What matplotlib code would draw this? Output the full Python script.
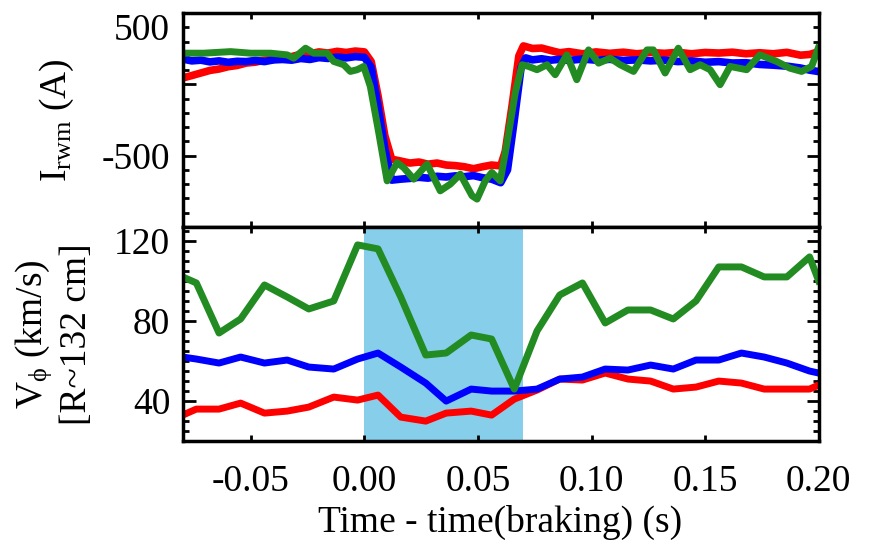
import numpy as np
import matplotlib
matplotlib.use("Agg")
import matplotlib.pyplot as plt
from matplotlib.ticker import MultipleLocator, NullLocator, FixedLocator

plt.rcParams['font.family'] = ['Liberation Serif', 'DejaVu Serif']
plt.rcParams['mathtext.fontset'] = 'custom'
plt.rcParams['mathtext.rm'] = 'Liberation Serif'
plt.rcParams['mathtext.it'] = 'Liberation Serif:italic'

# --- top panel: RWM coil current (t [s], I [A]) ---
rwm_red = [(-0.080, 45), (-0.076, 62), (-0.072, 80), (-0.068, 98), (-0.064, 108),
           (-0.060, 124), (-0.056, 133), (-0.052, 150), (-0.048, 156), (-0.044, 170),
           (-0.040, 175), (-0.036, 190), (-0.032, 195), (-0.028, 212), (-0.024, 215),
           (-0.020, 228), (-0.016, 220), (-0.012, 232), (-0.008, 224), (-0.004, 234),
           (0.000, 228), (0.003, 160), (0.006, -80), (0.009, -360), (0.012, -525),
           (0.016, -538), (0.020, -552), (0.024, -545), (0.028, -560), (0.032, -552),
           (0.036, -566), (0.040, -570), (0.044, -578), (0.048, -592), (0.052, -578),
           (0.056, -566), (0.060, -572), (0.062, -470), (0.065, -150), (0.068, 200),
           (0.070, 270), (0.074, 252), (0.078, 255), (0.082, 238), (0.086, 222),
           (0.090, 230), (0.096, 215), (0.102, 228), (0.108, 218), (0.114, 226),
           (0.120, 215), (0.126, 224), (0.132, 218), (0.138, 225), (0.144, 215),
           (0.150, 224), (0.156, 220), (0.162, 226), (0.168, 215), (0.174, 222),
           (0.180, 215), (0.186, 225), (0.192, 205), (0.196, 210), (0.200, 230)]

rwm_blue = [(-0.080, 178), (-0.076, 165), (-0.072, 170), (-0.068, 158), (-0.064, 165),
            (-0.060, 155), (-0.056, 162), (-0.052, 160), (-0.048, 168), (-0.044, 160),
            (-0.040, 172), (-0.036, 175), (-0.032, 170), (-0.028, 182), (-0.024, 175),
            (-0.020, 188), (-0.016, 182), (-0.012, 192), (-0.008, 186), (-0.004, 195),
            (0.000, 190), (0.003, 120), (0.006, -150), (0.009, -450), (0.012, -672),
            (0.016, -665), (0.020, -660), (0.024, -652), (0.028, -658), (0.032, -645),
            (0.036, -650), (0.040, -642), (0.044, -648), (0.048, -640), (0.052, -655),
            (0.056, -665), (0.060, -690), (0.063, -600), (0.066, -250), (0.069, 120),
            (0.071, 186), (0.074, 172), (0.078, 180), (0.082, 170), (0.086, 176),
            (0.090, 168), (0.096, 178), (0.102, 170), (0.108, 176), (0.114, 168),
            (0.120, 172), (0.126, 165), (0.132, 170), (0.138, 160), (0.144, 165),
            (0.150, 155), (0.156, 160), (0.162, 150), (0.168, 152), (0.174, 140),
            (0.180, 135), (0.186, 128), (0.192, 115), (0.196, 100), (0.200, 90)]

rwm_green = [(-0.0795, 219), (-0.0707, 219), (-0.0589, 230), (-0.0501, 219), (-0.0413, 219),
             (-0.0340, 207), (-0.0311, 184), (-0.0259, 254), (-0.0223, 219), (-0.0164, 219),
             (-0.0135, 161), (-0.0091, 138), (-0.0062, 91), (-0.0032, 103), (-0.0003, 126),
             (0.0026, -14), (0.0063, -338), (0.0100, -677), (0.0144, -549), (0.0173, -584),
             (0.0217, -665), (0.0276, -560), (0.0334, -747), (0.0378, -700), (0.0422, -630),
             (0.0474, -782), (0.0496, -805), (0.0532, -677), (0.0561, -618), (0.0598, -677),
             (0.0628, -409), (0.0664, -60), (0.0694, 138), (0.0723, 126), (0.0760, 103),
             (0.0804, 138), (0.0840, 68), (0.0891, 207), (0.0935, 33), (0.0987, 242),
             (0.1031, 149), (0.1082, 184), (0.1126, 138), (0.1185, 91), (0.1244, 242),
             (0.1272, 242), (0.1324, 80), (0.1382, 254), (0.1434, 103), (0.1478, 138),
             (0.1522, 103), (0.1566, -2), (0.1610, 126), (0.1683, 103), (0.1741, 207),
             (0.1815, 161), (0.1873, 114), (0.1925, 91), (0.1969, 126), (0.1998, 254)]

# --- bottom panel: toroidal rotation at R~132 cm ---
t_prof = [-0.080, -0.074, -0.064, -0.0545, -0.044, -0.034, -0.0245, -0.0135, -0.003, 0.006,
          0.016, 0.027, 0.036, 0.047, 0.056, 0.066, 0.076, 0.086, 0.096, 0.106,
          0.116, 0.126, 0.136, 0.146, 0.156, 0.166, 0.176, 0.186, 0.196, 0.200]
v_green = [102, 99, 74, 81, 98, 92, 86, 90, 118, 116,
           92, 63, 64, 73, 71, 46, 75, 93, 99, 79,
           85.5, 85.5, 81, 90, 107, 107, 102, 102, 112, 100]
v_blue = [62, 61, 59, 62, 59, 60.5, 57, 56, 61, 64,
          57, 49, 40, 46, 45, 45, 46, 51, 52, 56,
          55.5, 58, 56, 60.5, 60.5, 64, 62, 59, 55, 54]
v_red = [33, 36, 36, 39, 34, 35, 37, 42, 40.5, 43,
         32, 30, 34, 35, 33, 41, 45.5, 51, 50.5, 54,
         51, 50, 46, 47, 50, 49, 46, 46, 46, 48]

braking_window = (0.0, 0.07)

colors = {'red': '#ff0000', 'blue': '#0000ff', 'green': '#228b22'}

fig = plt.figure(figsize=(8.7, 5.48), dpi=100)
ax1 = fig.add_axes([0.210, 0.586, 0.731, 0.390])
ax2 = fig.add_axes([0.210, 0.195, 0.731, 0.391])

for name, series in [('red', rwm_red), ('blue', rwm_blue), ('green', rwm_green)]:
    tt, ii = zip(*series)
    ax1.plot(tt, ii, color=colors[name], lw=5.5 if name != 'green' else 5,
             solid_joinstyle='round')

ax2.axvspan(*braking_window, color='#87ceeb', zorder=0, lw=0)
ax2.plot(t_prof, v_red, color=colors['red'], lw=5)
ax2.plot(t_prof, v_blue, color=colors['blue'], lw=5)
ax2.plot(t_prof, v_green, color=colors['green'], lw=5)

fs = 27
for ax in (ax1, ax2):
    ax.set_xlim(-0.08, 0.20)
    ax.xaxis.set_major_locator(MultipleLocator(0.05))
    ax.xaxis.set_minor_locator(NullLocator())
    ax.tick_params(direction='in', top=True, right=True, which='both', width=2)
    ax.tick_params(axis='x', which='major', length=4, pad=17)
    ax.tick_params(axis='y', which='major', length=9, pad=9)
    ax.tick_params(axis='y', which='minor', length=4.5)
    ax.tick_params(labelsize=fs)
    for s in ax.spines.values():
        s.set_linewidth(2.5)

ax1.set_ylim(-1000, 500)
ax1.yaxis.set_major_locator(FixedLocator([-1000, -500, 0, 500]))
ax1.yaxis.set_minor_locator(MultipleLocator(100))
ax1.set_yticklabels(['', '-500', '', '500'])
ax1.tick_params(labelbottom=False)
ax1.yaxis.get_major_ticks()[3].label1.set_verticalalignment('top')

ax2.set_ylim(20, 127)
ax2.yaxis.set_major_locator(MultipleLocator(40))
ax2.yaxis.set_minor_locator(MultipleLocator(5))
ax2.set_xticklabels(['%.2f' % v for v in ax2.get_xticks()])
ax2.set_xlim(-0.08, 0.20)

fig.text(0.065, 0.78, r'I$_{\rm rwm}$ (A)', rotation=90, ha='center', va='center', fontsize=fs)
fig.text(0.062, 0.39, 'V$_{\\rm\\phi}$ (km/s)\n[R~132 cm]', rotation=90, ha='center', va='center',
         fontsize=fs, multialignment='center')
fig.text(0.575, 0.046, 'Time - time(braking) (s)', ha='center', va='center', fontsize=fs)

fig.savefig('out.png', dpi=100)
